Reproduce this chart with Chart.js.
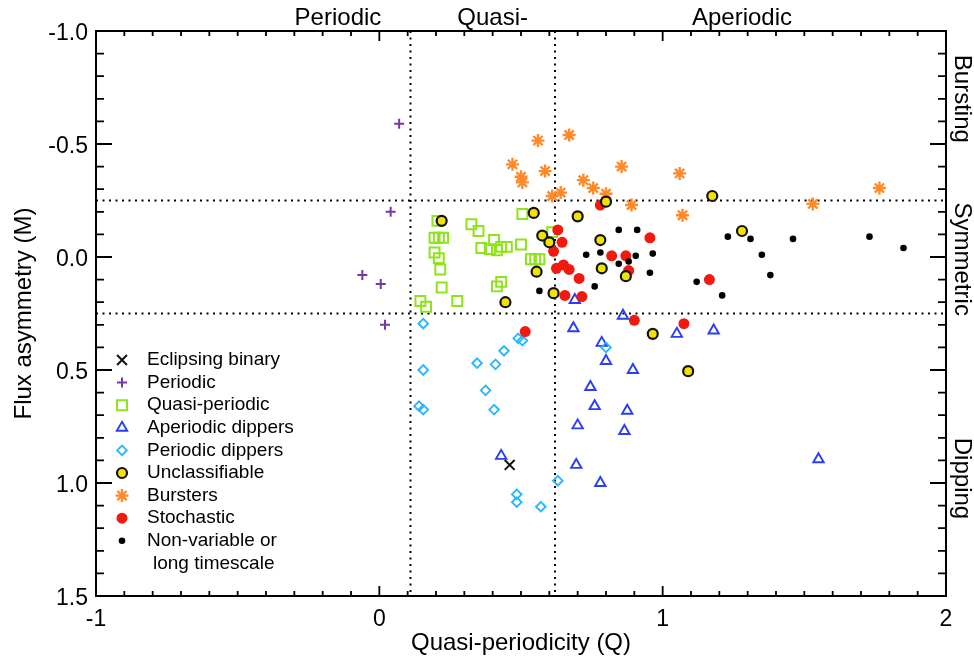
<!DOCTYPE html>
<html>
<head>
<meta charset="utf-8">
<script src="https://cdn.jsdelivr.net/npm/chart.js@4/dist/chart.umd.min.js"></script>
<style>
  html, body { margin: 0; padding: 0; background: #fff; }
  canvas { display: block; }
</style>
</head>
<body>
<canvas id="chart" width="974" height="661" style="width:974px;height:661px"></canvas>
<script>
// [Q, M] pairs
const eclipsing = [[0.46, 0.92]]
const periodic = [[0.07, -0.59], [0.04, -0.20], [-0.06, 0.08], [0.005, 0.12], [0.02, 0.30]]
const quasiPeriodic = [
  [0.205, -0.16], [0.325, -0.145], [0.35, -0.115], [0.505, -0.19], [0.195, -0.085], [0.21, -0.085],
  [0.225, -0.085], [0.195, -0.02], [0.21, 0.005], [0.215, 0.055], [0.22, 0.135], [0.145, 0.195],
  [0.165, 0.22], [0.275, 0.195], [0.36, -0.04], [0.405, -0.075], [0.39, -0.035], [0.415, -0.03],
  [0.43, -0.045], [0.45, -0.045], [0.50, -0.055], [0.415, 0.13], [0.43, 0.11], [0.535, 0.01],
  [0.55, 0.01], [0.565, 0.01], [0.61, -0.11]
]
const aperiodicDippers = [
  [0.69, 0.19], [0.685, 0.315], [0.86, 0.26], [1.05, 0.34], [1.18, 0.325], [0.785, 0.38],
  [0.80, 0.46], [0.895, 0.50], [0.745, 0.575], [0.76, 0.66], [0.875, 0.68], [0.70, 0.745],
  [0.865, 0.77], [0.43, 0.88], [0.695, 0.92], [0.78, 1.0], [1.55, 0.895]
]
const periodicDippers = [
  [0.155, 0.295], [0.155, 0.50], [0.14, 0.66], [0.155, 0.675], [0.345, 0.47], [0.41, 0.475],
  [0.44, 0.415], [0.49, 0.36], [0.505, 0.37], [0.375, 0.59], [0.405, 0.675], [0.485, 1.05],
  [0.485, 1.085], [0.57, 1.105], [0.63, 0.99], [0.80, 0.40]
]
const unclassifiable = [
  [0.22, -0.16], [0.545, -0.195], [0.575, -0.095], [0.60, -0.065], [0.555, 0.065], [0.445, 0.20],
  [0.615, 0.16], [0.70, -0.18], [0.80, -0.245], [0.78, -0.075], [0.785, 0.05], [0.87, 0.085],
  [1.175, -0.27], [1.28, -0.115], [0.965, 0.34], [1.09, 0.505]
]
const bursters = [
  [0.47, -0.41], [0.50, -0.355], [0.505, -0.33], [0.56, -0.515], [0.585, -0.38], [0.67, -0.54],
  [0.61, -0.27], [0.64, -0.285], [0.72, -0.34], [0.755, -0.305], [0.80, -0.28], [0.855, -0.40],
  [0.89, -0.23], [1.06, -0.37], [1.07, -0.185], [1.53, -0.235], [1.765, -0.305]
]
const stochastic = [
  [0.78, -0.23], [0.63, -0.12], [0.645, -0.065], [0.615, -0.025], [0.625, 0.05], [0.65, 0.035],
  [0.67, 0.055], [0.705, 0.095], [0.655, 0.17], [0.715, 0.175], [0.82, -0.005], [0.87, -0.005],
  [0.88, 0.06], [0.955, -0.085], [1.165, 0.10], [0.515, 0.33], [0.90, 0.28], [1.075, 0.295]
]
const nonVariable = [
  [0.845, -0.12], [0.91, -0.12], [0.73, -0.01], [0.78, -0.02], [0.845, 0.03], [0.88, 0.02],
  [0.905, -0.005], [0.965, -0.015], [0.955, 0.07], [0.76, 0.13], [0.565, 0.15], [1.12, 0.11],
  [1.21, 0.17], [1.23, -0.09], [1.31, -0.08], [1.46, -0.08], [1.73, -0.09], [1.85, -0.04],
  [1.35, -0.01], [1.38, 0.08]
]

const xTicks = [-1, 0, 1, 2]
const yTicks = [-1.0, -0.5, 0.0, 0.5, 1.0, 1.5]
const qDividers = [0.11, 0.62]
const mDividers = [-0.25, 0.25]
const topLabels = [['Periodic', -0.146], ['Quasi-', 0.40], ['Aperiodic', 1.28]]
const sideLabels = [['Bursting', -0.70], ['Symmetric', 0.01], ['Dipping', 0.98]]

const FONT = "'Liberation Sans', Arial, Helvetica, sans-serif"
Chart.defaults.font.family = FONT
Chart.defaults.color = '#000'

const pts = arr => arr.map(p => ({x: p[0], y: p[1]}))

const datasets = [
  {label: 'Eclipsing binary', data: pts(eclipsing), pointStyle: 'crossRot', pointRadius: 7,
    borderColor: '#111', backgroundColor: '#111', pointBorderWidth: 2, order: 0},
  {label: 'Periodic', data: pts(periodic), pointStyle: 'cross', pointRadius: 5,
    borderColor: '#7a35a6', backgroundColor: '#7a35a6', pointBorderWidth: 2, order: 8},
  {label: 'Quasi-periodic', data: pts(quasiPeriodic), pointStyle: 'rect', pointRadius: 7,
    borderColor: '#8fe31c', backgroundColor: 'rgba(0,0,0,0)', pointBorderWidth: 2, order: 7},
  {label: 'Aperiodic dippers', data: pts(aperiodicDippers), pointStyle: 'triangle', pointRadius: 6,
    borderColor: '#2b3ef2', backgroundColor: 'rgba(0,0,0,0)', pointBorderWidth: 1.9, order: 6},
  {label: 'Periodic dippers', data: pts(periodicDippers), pointStyle: 'rectRot', pointRadius: 4.8,
    borderColor: '#2bb7fb', backgroundColor: 'rgba(0,0,0,0)', pointBorderWidth: 1.9, order: 5},
  {label: 'Unclassifiable', data: pts(unclassifiable), pointStyle: 'circle', pointRadius: 5,
    borderColor: '#111', backgroundColor: '#f2e200', pointBorderWidth: 2.2, order: 1},
  {label: 'Bursters', data: pts(bursters), pointStyle: 'star', pointRadius: 6.5,
    borderColor: '#ff8a2a', backgroundColor: '#ff8a2a', pointBorderWidth: 2.4, order: 4},
  {label: 'Stochastic', data: pts(stochastic), pointStyle: 'circle', pointRadius: 5.5,
    borderColor: '#f21a0e', backgroundColor: '#f21a0e', pointBorderWidth: 0, order: 3},
  {label: ['Non-variable or', 'long timescale'], data: pts(nonVariable), pointStyle: 'circle', pointRadius: 3.3,
    borderColor: '#000', backgroundColor: '#000', pointBorderWidth: 0, order: 2}
]

function drawSymbol(ctx, ds, x, y) {
  ctx.save()
  ctx.strokeStyle = ds.borderColor
  ctx.fillStyle = ds.backgroundColor
  ctx.lineWidth = ds.pointBorderWidth
  Chart.helpers.drawPoint(ctx, {pointStyle: ds.pointStyle, radius: ds.pointRadius, rotation: 0, borderWidth: ds.pointBorderWidth}, x, y)
  ctx.restore()
}

const decorations = {
  id: 'decorations',
  beforeDatasetsDraw(chart) {
    const {ctx, chartArea: a, scales: {x, y}} = chart
    ctx.save()
    ctx.strokeStyle = '#000'
    ctx.lineWidth = 2
    ctx.setLineDash([2, 4.5])
    qDividers.forEach(q => {
      const px = x.getPixelForValue(q)
      ctx.beginPath(); ctx.moveTo(px, a.top); ctx.lineTo(px, a.bottom); ctx.stroke()
    })
    mDividers.forEach(m => {
      const py = y.getPixelForValue(m)
      ctx.beginPath(); ctx.moveTo(a.left, py); ctx.lineTo(a.right, py); ctx.stroke()
    })
    ctx.restore()
  },
  afterDraw(chart) {
    const {ctx, chartArea: a, scales: {x, y}} = chart
    ctx.save()
    // frame + inward ticks on all four sides
    ctx.strokeStyle = '#000'
    ctx.lineWidth = 2
    ctx.strokeRect(a.left, a.top, a.right - a.left, a.bottom - a.top)
    ctx.lineWidth = 1.8
    ctx.beginPath()
    for (let i = -10; i <= 20; i++) {
      const px = x.getPixelForValue(i / 10)
      const len = i % 10 === 0 ? 10 : 5
      ctx.moveTo(px, a.bottom); ctx.lineTo(px, a.bottom - len)
      ctx.moveTo(px, a.top); ctx.lineTo(px, a.top + len)
    }
    for (let i = -10; i <= 15; i++) {
      const py = y.getPixelForValue(i / 10)
      const len = i % 5 === 0 ? 16 : 8
      ctx.moveTo(a.left, py); ctx.lineTo(a.left + len, py)
      ctx.moveTo(a.right, py); ctx.lineTo(a.right - len, py)
    }
    ctx.stroke()

    // region names
    ctx.fillStyle = '#000'
    ctx.font = '24px ' + FONT
    ctx.textAlign = 'center'
    ctx.textBaseline = 'alphabetic'
    topLabels.forEach(([t, q]) => ctx.fillText(t, x.getPixelForValue(q), 25))
    sideLabels.forEach(([t, m]) => {
      ctx.save()
      ctx.translate(955, y.getPixelForValue(m))
      ctx.rotate(Math.PI / 2)
      ctx.fillText(t, 0, 0)
      ctx.restore()
    })

    // legend in the lower left of the plot
    ctx.font = '19px ' + FONT
    ctx.textAlign = 'left'
    ctx.textBaseline = 'middle'
    let ly = 360
    chart.data.datasets.forEach(ds => {
      drawSymbol(ctx, ds, 122, ly)
      const lines = Array.isArray(ds.label) ? ds.label : [ds.label]
      lines.forEach((t, k) => {
        ctx.fillText(t, k === 0 ? 147 : 153, ly)
        if (k < lines.length - 1) ly += 22.6
      })
      ly += 22.6
    })
    ctx.restore()
  }
}

new Chart(document.getElementById('chart'), {
  type: 'scatter',
  data: {datasets: datasets},
  options: {
    responsive: false,
    animation: false,
    events: [],
    layout: {padding: {top: 31, right: 28, left: 0, bottom: 0}},
    plugins: {legend: {display: false}, tooltip: {enabled: false}},
    scales: {
      x: {
        type: 'linear', min: -1, max: 2,
        afterFit: s => { s.height = 65 },
        afterBuildTicks: s => { s.ticks = xTicks.map(v => ({value: v})) },
        grid: {display: false, drawTicks: false},
        border: {display: false},
        ticks: {padding: 10, font: {size: 23}, color: '#000', maxRotation: 0, callback: v => String(v)},
        title: {display: true, text: 'Quasi-periodicity (Q)', font: {size: 24}, color: '#000', padding: {top: 0, bottom: 3}}
      },
      y: {
        type: 'linear', min: -1, max: 1.5, reverse: true,
        afterFit: s => { s.width = 96 },
        afterBuildTicks: s => { s.ticks = yTicks.map(v => ({value: v})) },
        grid: {display: false, drawTicks: false},
        border: {display: false},
        ticks: {padding: 8, labelOffset: 3, font: {size: 23}, color: '#000', callback: v => v.toFixed(1)},
        title: {display: true, text: 'Flux asymmetry (M)', font: {size: 24}, color: '#000', padding: {top: 10, bottom: 0}}
      }
    }
  },
  plugins: [decorations]
})
</script>
</body>
</html>
